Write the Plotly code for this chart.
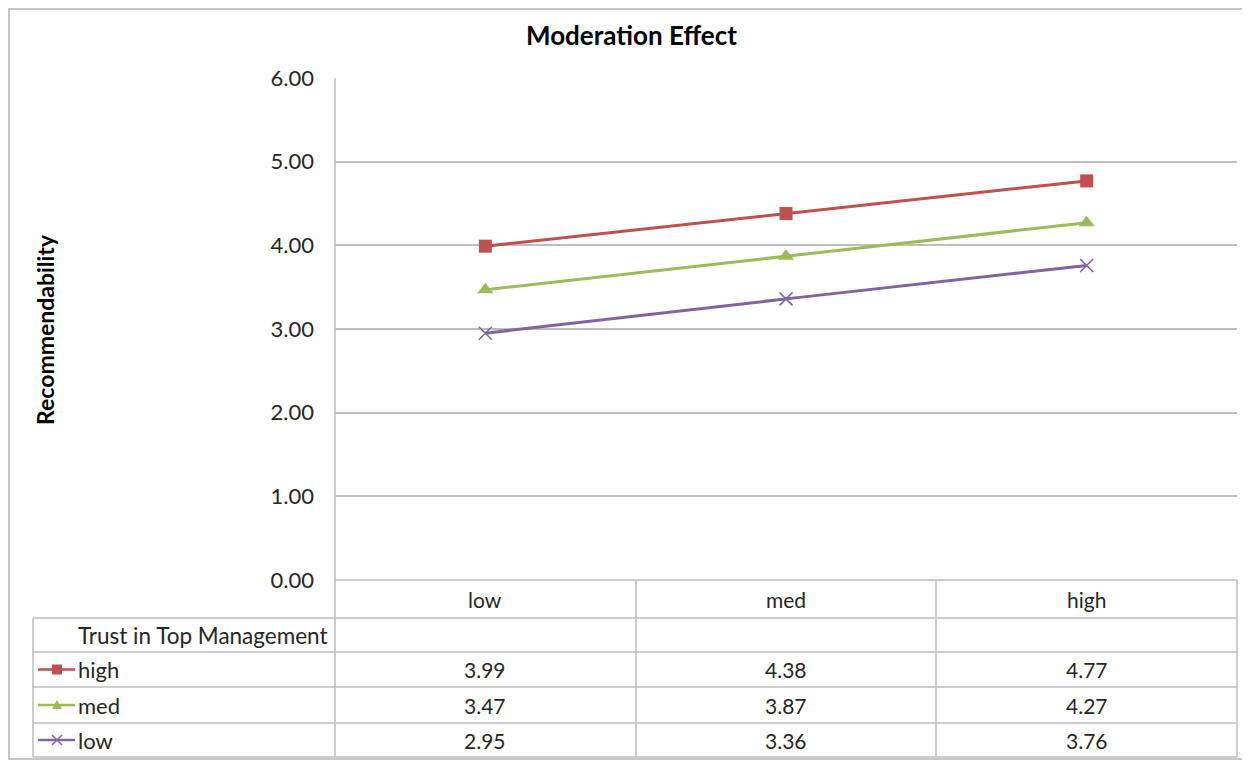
import plotly.graph_objects as go

# ---- data ----
categories = ["low", "med", "high"]
series_names = ["high", "med", "low"]
high_vals = [3.99, 4.38, 4.77]
med_vals = [3.47, 3.87, 4.27]
low_vals = [2.95, 3.36, 3.76]
y_ticks = [0, 1, 2, 3, 4, 5, 6]
title_text = "Moderation Effect"
y_title = "Recommendability"
table_header = "Trust in Top Management"

series_values = [high_vals, med_vals, low_vals]
colors = ["#C0504D", "#9BBB59", "#8064A2"]
symbols = ["square", "triangle-up", "x-thin"]
msizes = [13, 14, 13]

# page body has an 8px margin; figure is sized to fill the rest of the window
OFF = 8
W, H = 1250 - OFF, 761 - OFF
FONT = "Lato"
GRID = "#BDBDBD"
TXT = "#262626"

def px(x):
    return (x - OFF) / W

def py(y):
    return 1 - (y - OFF) / H

# layout in window pixels
PL, PR, PT, PB = 335, 1237, 78, 580
row_lines = [618, 652, 687, 723, 757]
table_left = 33
col_lines = [636, 936]

fig = go.Figure()
for name, vals, c, s, ms in zip(series_names, series_values, colors, symbols, msizes):
    fig.add_trace(go.Scatter(
        x=categories, y=vals, name=name, mode="lines+markers",
        line=dict(color=c, width=3),
        marker=dict(symbol=s, size=ms, color=c,
                    line=dict(color=c, width=1.5 if s == "x-thin" else 0)),
        showlegend=False, cliponaxis=False,
    ))

shapes = []
# outer border
shapes.append(dict(type="rect", xref="paper", yref="paper", x0=px(9), x1=px(1248),
                   y0=py(9), y1=py(759), line=dict(color="#C8C8C8", width=2)))
# y axis line (through table)
shapes.append(dict(type="line", xref="paper", yref="paper", x0=px(PL), x1=px(PL),
                   y0=py(PT), y1=py(row_lines[-1]), line=dict(color=GRID, width=1.5)))
# x axis / header top line
shapes.append(dict(type="line", xref="paper", yref="paper", x0=px(PL), x1=px(PR),
                   y0=py(PB), y1=py(PB), line=dict(color=GRID, width=1.5)))
# table horizontal lines
for r in row_lines:
    shapes.append(dict(type="line", xref="paper", yref="paper", x0=px(table_left), x1=px(PR),
                       y0=py(r), y1=py(r), line=dict(color=GRID, width=1.5)))
# table vertical lines
shapes.append(dict(type="line", xref="paper", yref="paper", x0=px(table_left), x1=px(table_left),
                   y0=py(row_lines[0]), y1=py(row_lines[-1]), line=dict(color=GRID, width=1.5)))
for cx in col_lines + [PR]:
    shapes.append(dict(type="line", xref="paper", yref="paper", x0=px(cx), x1=px(cx),
                       y0=py(PB), y1=py(row_lines[-1]), line=dict(color=GRID, width=1.5)))

def ann(text, x, y, size, xref="paper", xanchor="center", bold=False, angle=0, color=TXT):
    return dict(text=("<b>" + text + "</b>") if bold else text, xref=xref, yref="paper",
                x=x, y=y, xanchor=xanchor, yanchor="middle", showarrow=False,
                textangle=angle, font=dict(family=FONT, size=size, color=color))

annotations = []
annotations.append(ann(title_text, px(631), py(35), 26, bold=True, color="#000000"))
annotations.append(ann(y_title, px(45), py(330), 23, bold=True, angle=-90, color="#000000"))
header_c = (PB + row_lines[0]) / 2
for cat in categories:
    annotations.append(ann(cat, cat, py(header_c), 21, xref="x"))
annotations.append(ann(table_header, px(330), py((row_lines[0] + row_lines[1]) / 2), 22.5,
                       xanchor="right"))
for i, (name, vals, c, s) in enumerate(zip(series_names, series_values, colors, symbols)):
    top, bot = row_lines[i + 1], row_lines[i + 2]
    cy = (top + bot) / 2
    annotations.append(ann(name, px(76), py(cy), 22, xanchor="left"))
    for cat, v in zip(categories, vals):
        annotations.append(ann(f"{v:.2f}", cat, py(cy), 21, xref="x"))
    # legend key line
    shapes.append(dict(type="line", xref="paper", yref="paper", x0=px(38), x1=px(75),
                       y0=py(cy), y1=py(cy), line=dict(color=c, width=2.5)))
    mx = 57
    if s == "square":
        shapes.append(dict(type="rect", xref="paper", yref="paper", x0=px(mx - 5), x1=px(mx + 5),
                           y0=py(cy + 5), y1=py(cy - 5), fillcolor=c, line=dict(width=0)))
    elif s == "triangle-up":
        path = f"M {px(mx-5)},{py(cy+4)} L {px(mx+5)},{py(cy+4)} L {px(mx)},{py(cy-5)} Z"
        shapes.append(dict(type="path", xref="paper", yref="paper", path=path,
                           fillcolor=c, line=dict(width=0)))
    else:
        path = (f"M {px(mx-5)},{py(cy-5)} L {px(mx+5)},{py(cy+5)} "
                f"M {px(mx-5)},{py(cy+5)} L {px(mx+5)},{py(cy-5)}")
        shapes.append(dict(type="path", xref="paper", yref="paper", path=path,
                           line=dict(color=c, width=1.5)))

fig.update_layout(
    template="none",
    width=W, height=H,
    margin=dict(l=0, r=0, t=0, b=0, pad=0, autoexpand=False),
    paper_bgcolor="white", plot_bgcolor="white",
    xaxis=dict(domain=[px(PL), px(PR)], type="category", range=[-0.5, 2.5],
               showticklabels=False, showgrid=False, zeroline=False, showline=False,
               ticks="", automargin=False, fixedrange=True),
    yaxis=dict(domain=[py(PB), py(PT)], range=[0, 6], tickvals=y_ticks, tickformat=".2f",
               showgrid=True, gridcolor=GRID, gridwidth=1.5, zeroline=False, showline=False,
               ticks="", ticklabelstandoff=20, automargin=False,
               tickfont=dict(family=FONT, size=22, color=TXT), fixedrange=True),
    shapes=shapes,
    annotations=annotations,
    showlegend=False,
)

fig.write_html("out.html")
